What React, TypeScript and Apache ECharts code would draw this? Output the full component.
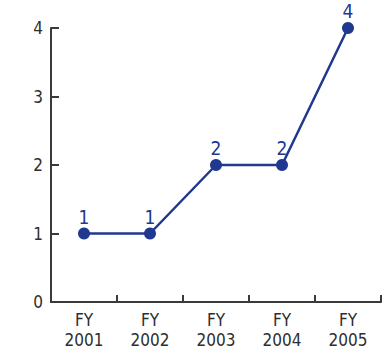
import React, { useEffect, useRef } from "react";
import * as echarts from "echarts";

const categories = ["FY\n2001", "FY\n2002", "FY\n2003", "FY\n2004", "FY\n2005"];
const values = [1, 1, 2, 2, 4];
const yTicks = [0, 1, 2, 3, 4];

const FONT = '"Liberation Sans Narrow", "DejaVu Sans Condensed", "Roboto Condensed", sans-serif';
const NAVY = "#20388f";
const AXIS = "#3a3a3a";

export default function App() {
  const ref = useRef<HTMLDivElement>(null);

  useEffect(() => {
    if (!ref.current) return;
    const chart = echarts.init(ref.current, null, { renderer: "svg" });
    chart.setOption({
      animation: false,
      backgroundColor: "#ffffff",
      textStyle: { fontFamily: FONT },
      grid: { left: 51, right: 9, top: 28, bottom: 46, containLabel: false },
      xAxis: {
        type: "category",
        data: categories,
        boundaryGap: true,
        axisLine: { show: true, lineStyle: { color: AXIS, width: 2 } },
        axisTick: { show: true, inside: true, length: 7, lineStyle: { color: AXIS, width: 2 } },
        axisLabel: {
          color: "#2e2e2e",
          fontFamily: FONT,
          fontSize: 17,
          lineHeight: 20,
          margin: 8,
        },
        splitLine: { show: false },
      },
      yAxis: {
        type: "value",
        min: yTicks[0],
        max: yTicks[yTicks.length - 1],
        interval: 1,
        axisLine: { show: true, lineStyle: { color: AXIS, width: 2 } },
        axisTick: { show: true, inside: true, length: 8, lineStyle: { color: AXIS, width: 2 } },
        axisLabel: { color: "#2e2e2e", fontFamily: FONT, fontSize: 17, margin: 8 },
        splitLine: { show: false },
      },
      series: [
        {
          type: "line",
          data: values,
          symbol: "circle",
          symbolSize: 12,
          lineStyle: { color: NAVY, width: 2.5 },
          itemStyle: { color: NAVY },
          label: {
            show: true,
            position: "top",
            distance: 3,
            color: NAVY,
            fontFamily: FONT,
            fontSize: 19,
            lineHeight: 16,
          },
        },
      ],
    });
    return () => chart.dispose();
  }, []);

  return <div ref={ref} style={{ width: 390, height: 350, position: "absolute", left: 0, top: 0 }} />;
}
